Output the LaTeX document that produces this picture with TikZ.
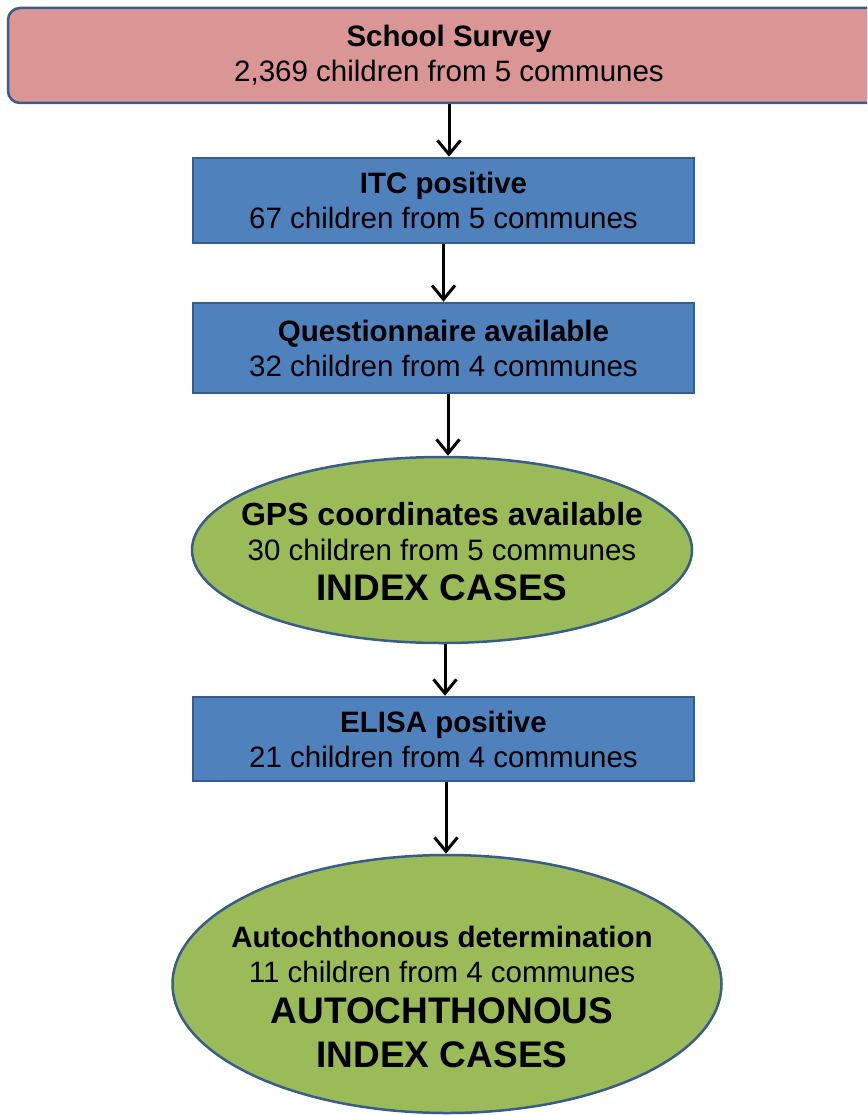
\documentclass[tikz,border=0pt]{standalone}
\usepackage{fontspec}
\setmainfont{Liberation Sans}
\usetikzlibrary{shapes.geometric,arrows.meta}
\definecolor{rosefond}{HTML}{D99694}
\definecolor{bleufond}{HTML}{4F81BD}
\definecolor{vertfond}{HTML}{9BBB59}
\definecolor{bordure}{HTML}{385D8A}
\newcommand{\gros}{\fontsize{37}{44}\selectfont\bfseries}
\begin{document}
\begin{tikzpicture}[x=1pt, y=-1pt, font=\fontsize{29.5}{35}\selectfont,
	boite/.style={rectangle, draw=bordure, line width=2.5pt, fill=bleufond, minimum width=501pt, inner sep=0pt, align=center},
	ovale/.style={ellipse, draw=bordure, line width=2.5pt, fill=vertfond, inner sep=0pt},
	texte/.style={align=center, inner sep=0pt},
	fleche/.style={-{Straight Barb[length=14pt,width=23pt]}, line width=3pt}]
	\useasboundingbox (0,0) rectangle (867,1115);
	\clip (0,0) rectangle (867,1115);
	% enquete scolaire
	\node[rectangle, rounded corners=12pt, draw=bordure, line width=2.5pt, fill=rosefond, minimum width=882pt, minimum height=95pt, align=center] (survey) at (449,55.5)
		{\textbf{School Survey}\\2,369 children from 5 communes};
	% etapes
	\node[boite, minimum height=85pt] (itc) at (443.5,200.5)
		{\textbf{ITC positive}\\67 children from 5 communes};
	\node[boite, minimum height=90pt] (quest) at (443.5,348)
		{\textbf{Questionnaire available}\\32 children from 4 communes};
	\node[ovale, minimum width=500pt, minimum height=186pt] (gps) at (442,550) {};
	\node[texte] (gpstexte) at (442,552)
		{{\fontsize{32}{35}\selectfont\bfseries GPS coordinates available}\\30 children from 5 communes\\[5pt]{\gros INDEX CASES}};
	\node[boite, minimum height=84pt] (elisa) at (443.5,739)
		{\textbf{ELISA positive}\\21 children from 4 communes};
	\node[ovale, minimum width=549pt, minimum height=258pt] (auto) at (447,984) {};
	\node[texte] (autotexte) at (442,997)
		{\textbf{Autochthonous determination}\\11 children from 4 communes\\[6pt]{\gros AUTOCHTHONOUS}\\[9pt]{\gros INDEX CASES}};
	% fleches
	\draw[fleche] (survey.south -| 449,0) -- (itc.north -| 449,0);
	\draw[fleche] (itc) -- (quest);
	\draw[fleche] (quest.south -| 448,0) -- (gps.north -| 448,0);
	\draw[fleche] (gps.south -| 445,0) -- (elisa.north -| 445,0);
	\draw[fleche] (elisa.south -| 446,0) -- (auto.north -| 446,0);
\end{tikzpicture}
\end{document}
